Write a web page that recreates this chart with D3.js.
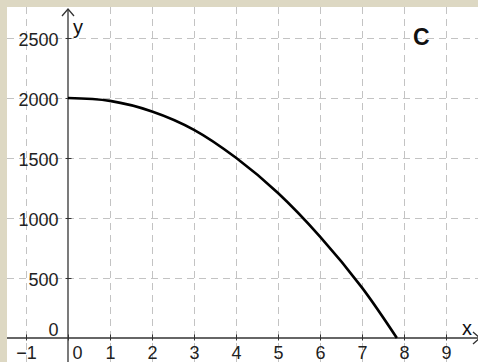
<!DOCTYPE html>
<html>
<head>
<meta charset="utf-8">
<script src="https://cdn.jsdelivr.net/npm/d3@7"></script>
<style>
  body { margin: 0; background: #ddd8c3; }
  svg { display: block; font-family: "Liberation Sans", Arial, sans-serif; }
</style>
</head>
<body>
<script>
// data
var curveX = [0, 1, 2, 3, 4, 5, 6, 7, 7.83];
var curveY = [2000, 1976, 1888, 1735, 1502, 1208, 845, 420, 0];
var xTicks = [-1, 0, 1, 2, 3, 4, 5, 6, 7, 8, 9];
var yTicks = [0, 500, 1000, 1500, 2000, 2500];
var panelLabel = "C";

var outerWidth = 478,
    outerHeight = 362,
    pad = 7;

var x = d3.scaleLinear().domain([-1, 9]).range([26, 446]);
var y = d3.scaleLinear().domain([0, 2500]).range([338, 38]);

var svg = d3.select("body").append("svg")
    .attr("width", outerWidth)
    .attr("height", outerHeight);

// white drawing pad
svg.append("rect")
    .attr("x", pad).attr("y", pad)
    .attr("width", outerWidth - pad).attr("height", outerHeight - pad)
    .attr("fill", "#fff");

// dashed grid
var grid = svg.append("g")
    .attr("stroke", "#c3c3c3")
    .attr("stroke-width", 1)
    .attr("stroke-dasharray", "7,5");

grid.selectAll(".vg")
    .data(xTicks.filter(function(d) { return d !== 0; }))
  .enter().append("line")
    .attr("x1", function(d) { return Math.round(x(d)) + 0.5; })
    .attr("x2", function(d) { return Math.round(x(d)) + 0.5; })
    .attr("y1", pad).attr("y2", outerHeight);

grid.selectAll(".hg")
    .data(yTicks.filter(function(d) { return d !== 0; }))
  .enter().append("line")
    .attr("y1", function(d) { return Math.round(y(d)) + 0.5; })
    .attr("y2", function(d) { return Math.round(y(d)) + 0.5; })
    .attr("x1", pad).attr("x2", outerWidth);

// x axis
var xAxis = d3.axisBottom(x)
    .tickValues(xTicks)
    .tickSize(3)
    .tickFormat(function(d) { return d < 0 ? "\u2212" + Math.abs(d) : d; });

var gx = svg.append("g")
    .attr("transform", "translate(0," + (y(0) - 0.5) + ")")
    .call(xAxis);
gx.select(".domain").remove();
gx.selectAll(".tick line").attr("y1", -3).attr("stroke", "#333");
gx.selectAll(".tick text")
    .attr("y", 9)
    .attr("dy", "0.71em")
    .attr("dx", function(d) { return d === 0 ? 9 : 0; })
    .attr("font-size", 18)
    .attr("font-family", "Liberation Sans, Arial, sans-serif")
    .attr("fill", "#222");

// y axis
var yAxis = d3.axisLeft(y)
    .tickValues(yTicks)
    .tickSize(3)
    .tickFormat(d3.format("d"));

var gy = svg.append("g")
    .attr("transform", "translate(" + (x(0) + 0.5) + ",0)")
    .call(yAxis);
gy.select(".domain").remove();
gy.selectAll(".tick line").attr("x1", 3).attr("stroke", "#333")
    .attr("display", function(d) { return d === 0 ? "none" : null; });
gy.selectAll(".tick text")
    .attr("x", -10)
    .attr("dy", function(d) { return d === 0 ? "-0.15em" : "0.42em"; })
    .attr("font-size", 18)
    .attr("font-family", "Liberation Sans, Arial, sans-serif")
    .attr("fill", "#222");

// axis lines with open arrow heads
var axes = svg.append("g")
    .attr("stroke", "#333")
    .attr("stroke-width", 1.3)
    .attr("fill", "none");

axes.append("line")
    .attr("x1", pad).attr("x2", outerWidth + 4)
    .attr("y1", y(0)).attr("y2", y(0));
axes.append("path")
    .attr("d", "M" + (outerWidth - 5) + "," + (y(0) - 6) + "L" + (outerWidth + 2) + "," + y(0) +
               "L" + (outerWidth - 5) + "," + (y(0) + 6));

axes.append("line")
    .attr("x1", x(0)).attr("x2", x(0))
    .attr("y1", 9).attr("y2", outerHeight);
axes.append("path")
    .attr("d", "M" + (x(0) - 6) + ",16L" + x(0) + ",9L" + (x(0) + 6) + ",16");

// axis names
svg.append("text")
    .attr("x", x(0) + 5).attr("y", 34)
    .attr("font-size", 20)
    .attr("fill", "#111")
    .text("y");

svg.append("text")
    .attr("x", 462).attr("y", 335)
    .attr("font-size", 20)
    .attr("fill", "#111")
    .text("x");

// panel letter
svg.append("text")
    .attr("x", 413).attr("y", 45)
    .attr("font-size", 23)
    .attr("font-weight", "bold")
    .attr("fill", "#111")
    .text(panelLabel);

// the curve
var pts = curveX.map(function(d, i) { return [d, curveY[i]]; });

var line = d3.line()
    .x(function(d) { return x(d[0]); })
    .y(function(d) { return y(d[1]); })
    .curve(d3.curveCatmullRom.alpha(0.5));

svg.append("path")
    .datum(pts)
    .attr("fill", "none")
    .attr("stroke", "#000")
    .attr("stroke-width", 2.6)
    .attr("d", line);
</script>
</body>
</html>
